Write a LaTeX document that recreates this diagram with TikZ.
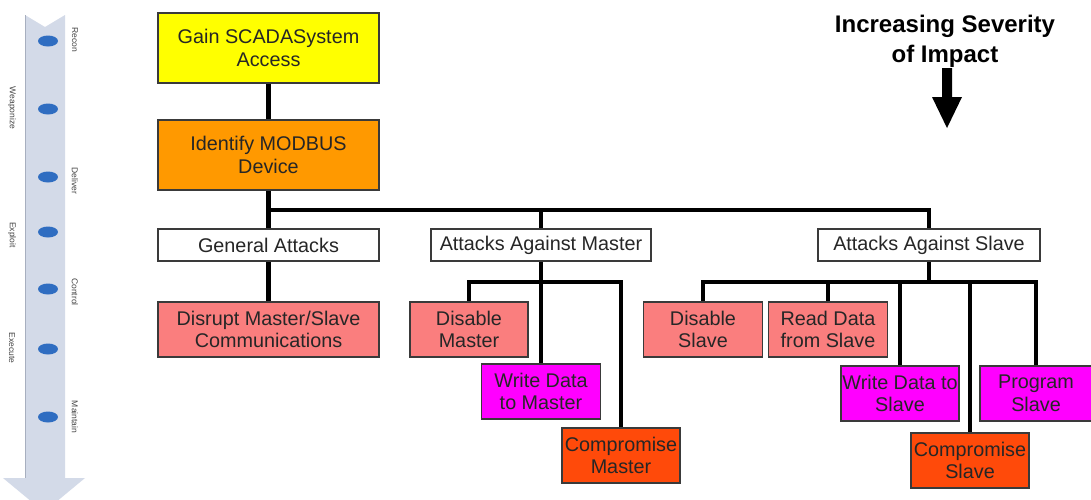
\documentclass[tikz,border=0pt]{standalone}
\usepackage{fontspec}
\setmainfont{Liberation Sans}
\usetikzlibrary{shapes.geometric,backgrounds}
\definecolor{bxyellow}{HTML}{FFFF00}
\definecolor{bxorange}{HTML}{FF9900}
\definecolor{bxsalmon}{HTML}{FA7E7E}
\definecolor{bxmagenta}{HTML}{FF00FF}
\definecolor{bxred}{HTML}{FF4A0A}
\definecolor{bxborder}{HTML}{3A3A3A}
\definecolor{shaftcol}{HTML}{D3DAE8}
\definecolor{shaftedge}{HTML}{A7AFBF}
\definecolor{dotcol}{HTML}{2F6DC1}
\definecolor{lblcol}{HTML}{444444}
\begin{document}
\begin{tikzpicture}[x=1pt,y=-1pt,
  box/.style={draw=bxborder,line width=1.3pt,align=center,inner sep=0pt,
    font=\fontsize{19.8}{22.5}\selectfont,text=black!85},
  conn/.style={line width=4.5pt,black,line cap=rect,line join=miter},
  dot/.style={ellipse,fill=dotcol,minimum width=20pt,minimum height=11pt,inner sep=0pt},
  stage/.style={rotate=-90,font=\fontsize{8.5}{9}\selectfont,text=lblcol,inner sep=0pt}]
\useasboundingbox (0,0) rectangle (1091,499);

% left phase arrow
\fill[shaftcol] (25,15) -- (45,27) -- (65,15) -- (65,478) -- (85,478) -- (44,512) -- (3,478) -- (25,478) -- cycle;
\draw[shaftedge,line width=1pt] (25.5,15) -- (25.5,478);
\node[dot] (d1) at (48,41) {};
\node[dot] (d2) at (48,109) {};
\node[dot] (d3) at (48,177) {};
\node[dot] (d4) at (48,232) {};
\node[dot] (d5) at (48,289) {};
\node[dot] (d6) at (48,349) {};
\node[dot] (d7) at (48,417) {};
\node[stage] (l1) at (75,40) {Recon};
\node[stage] (l2) at (12,108) {Weaponize};
\node[stage] (l3) at (75,181) {Deliver};
\node[stage] (l4) at (12,235) {Exploit};
\node[stage] (l5) at (75,292) {Control};
\node[stage] (l6) at (12,348) {Execute};
\node[stage] (l7) at (75,417) {Maintain};

% heading
\node[align=center,font=\fontsize{24}{30}\selectfont\bfseries,inner sep=0pt] (head) at (945,41) {Increasing Severity\\of Impact};
\fill (942,68) -- (952,68) -- (952,97) -- (962,97) -- (947,128) -- (932,97) -- (942,97) -- cycle;

% boxes
\node[box,fill=bxyellow,minimum width=221pt,minimum height=70pt] (gain) at (268.5,48) {Gain SCADASystem\\Access};
\node[box,fill=bxorange,minimum width=221pt,minimum height=70pt] (ident) at (268.5,155) {Identify MODBUS\\Device};
\node[box,fill=white,minimum width=221pt,minimum height=32pt] (gen) at (268.5,245) {General Attacks};
\node[box,fill=white,minimum width=220pt,minimum height=32pt] (mas) at (541,245) {Attacks Against Master};
\node[box,fill=white,minimum width=222pt,minimum height=32pt] (sla) at (929,245) {Attacks Against Slave};
\node[box,fill=bxsalmon,minimum width=221pt,minimum height=55pt] (disr) at (268.5,329.5) {Disrupt Master/Slave\\Communications};
\node[box,fill=bxsalmon,minimum width=118pt,minimum height=55pt] (dm) at (469,329.5) {Disable\\Master};
\node[box,fill=bxmagenta,minimum width=119pt,minimum height=55pt] (wm) at (541,391.5) {Write Data\\to Master};
\node[box,fill=bxred,minimum width=118pt,minimum height=55pt] (cm) at (621,455.5) {Compromise\\Master};
\node[box,fill=bxsalmon,minimum width=119pt,minimum height=55pt] (ds) at (703,329.5) {Disable\\Slave};
\node[box,fill=bxsalmon,minimum width=119pt,minimum height=55pt] (rs) at (828,329.5) {Read Data\\from Slave};
\node[box,fill=bxmagenta,minimum width=118pt,minimum height=55pt] (ws) at (900,393.5) {Write Data to\\Slave};
\node[box,fill=bxred,minimum width=118pt,minimum height=55pt] (cs) at (970,460.5) {Compromise\\Slave};
\node[box,fill=bxmagenta,minimum width=112pt,minimum height=55pt] (ps) at (1036,393.5) {Program\\Slave};

% connectors
\coordinate (bus) at (268.5,210);
\coordinate (mbus) at (541,282);
\coordinate (sbus) at (929,282);
\begin{scope}[on background layer]
\fill[white] (0,0) rectangle (1091,499);
\draw[conn] (gain.south) -- (ident.north);
\draw[conn] (ident.south) -- (gen.north);
\draw[conn] (bus) -| (sla.north);
\draw[conn] (mas.north) -- (mas.north |- bus);
\draw[conn] (gen.south) -- (disr.north);
\draw[conn] (mas.south) -- (wm.north);
\draw[conn] (dm.north) |- (mbus) -| (cm.north);
\draw[conn] (sla.south) -- (sbus);
\draw[conn] (ds.north) |- (sbus) -| (ps.north);
\draw[conn] (rs.north) -- (rs.north |- sbus);
\draw[conn] (ws.north) -- (ws.north |- sbus);
\draw[conn] (cs.north) -- (cs.north |- sbus);
\end{scope}
\end{tikzpicture}
\end{document}
